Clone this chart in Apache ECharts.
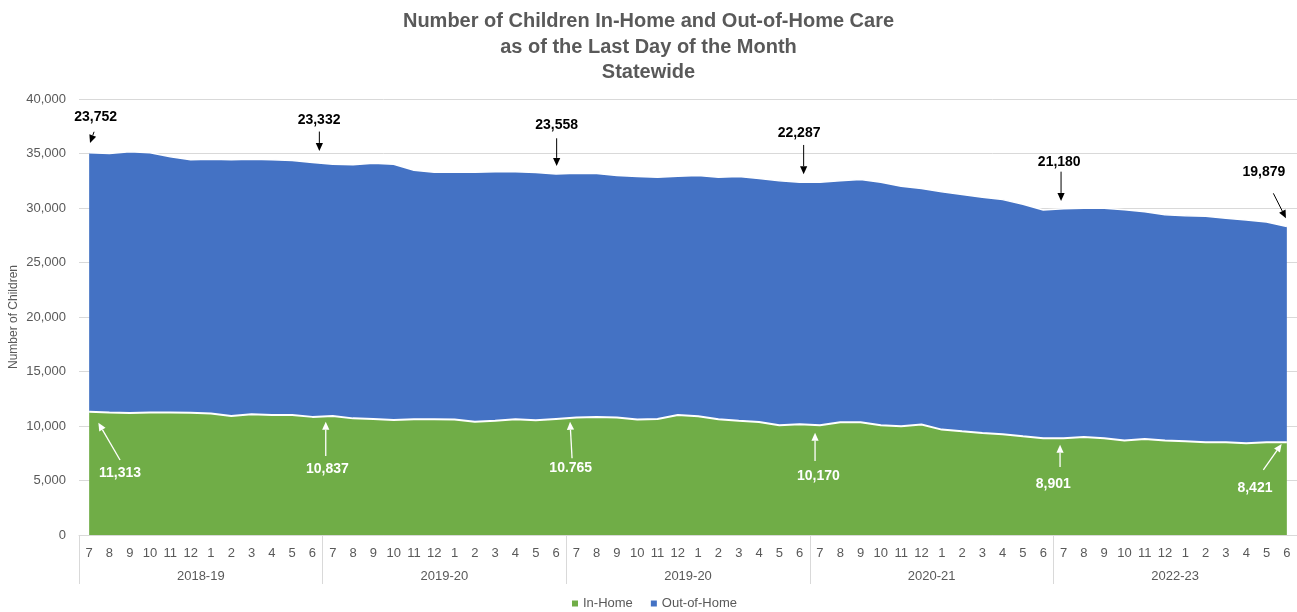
<!DOCTYPE html>
<html><head><meta charset="utf-8">
<script src="https://cdn.jsdelivr.net/npm/echarts@6/dist/echarts.min.js"></script>
<style>html,body{margin:0;padding:0;background:#fff}#c{width:1297px;height:612px}</style>
</head><body><div id="c"></div>
<script>
// ---------- DATA ----------
const titleLines = ['Number of Children In-Home and Out-of-Home Care', 'as of the Last Day of the Month', 'Statewide'];
const yTitle = 'Number of Children';
const months = ['7','8','9','10','11','12','1','2','3','4','5','6'];
const fiscalYears = ['2018-19','2019-20','2019-20','2020-21','2022-23'];
const seriesNames = ['In-Home','Out-of-Home'];
const inHome = [
  11313,11230,11200,11230,11230,11220,11140,10920,11080,11010,
  11010,10837,10920,10700,10650,10550,10620,10620,10600,10380,
  10490,10620,10520,10650,10770,10830,10770,10600,10650,11010,
  10890,10620,10490,10370,10060,10170,10060,10340,10340,10060,
  9970,10130,9670,9510,9360,9240,9050,8880,8870,8990,
  8870,8680,8800,8680,8590,8500,8500,8410,8500,8500
];
const outOfHome = [
  23752,23770,23950,23830,23470,23200,23340,23500,23400,23410,
  23350,23332,23100,23260,23460,23470,22850,22660,22710,22900,
  22830,22700,22730,22480,22420,22330,22210,22280,22170,21900,
  22090,22200,22390,22330,22430,22200,22300,22150,22270,22300,
  22020,21650,21830,21720,21620,21530,21290,20940,21070,20980,
  21100,21170,20865,20710,20710,20740,20550,20490,20220,19800
];
const yTicks = {min: 0, max: 40000, interval: 5000};
const noteIdx = [0, 11, 23, 35, 47, 59];
const outNotes = ['23,752','23,332','23,558','22,287','21,180','19,879'];
const inNotes = ['11,313','10,837','10.765','10,170','8,901','8,421'];
const sourceNote = 'Data Source Child Welfare Dashboard';

// ---------- LAYOUT / STYLE ----------
const FONT = '"Liberation Sans", Arial, sans-serif';
const GRAY = '#595959';
const GRID = '#d9d9d9';
const GREEN = '#70AD47';
const BLUE = '#4472C4';
// pixel offsets of annotation parts relative to the data anchor
const outLayout = [
  {label:[6.5,-36], tail:[4.9,-21], head:[0.9,-9.8]},
  {label:[6.6,-42], tail:[6.9,-31], head:[6.9,-11.6]},
  {label:[0.6,-49], tail:[0.6,-35.6], head:[0.6,-8]},
  {label:[-0.6,-49.5], tail:[4,-37.2], head:[4,-8]},
  {label:[16,-48.3], tail:[17.8,-38.3], head:[17.8,-9]},
  {label:[-22.9,-54.8], tail:[-13.5,-33.2], head:[-0.9,-8.2]}
];
const inLayout = [
  {label:[30.9,61.6], tail:[30.9,48.3], head:[9.2,11]},
  {label:[14.9,52.4], tail:[13.3,39.1], head:[13.3,4.8]},
  {label:[14.7,49.4], tail:[16,39.4], head:[14,2.8]},
  {label:[18.7,51.9], tail:[15.4,36.9], head:[15.4,8.6]},
  {label:[10,45.5], tail:[16.8,28.8], head:[16.8,6.5]},
  {label:[-31.9,45.3], tail:[-23.5,27.6], head:[-5.2,1.6]}
];

const categories = [];
fiscalYears.forEach(() => months.forEach(m => categories.push(m)));

const chart = echarts.init(document.getElementById('c'), null, {renderer: 'canvas'});
const option = {
  animation: false,
  backgroundColor: '#fff',
  textStyle: {fontFamily: FONT},
  title: {
    text: titleLines.join('\n'), left: 'center', top: 4,
    textStyle: {fontSize: 20, fontWeight: 'bold', color: GRAY, lineHeight: 25.5, fontFamily: FONT}
  },
  legend: {
    data: seriesNames, top: 592, left: 567, icon: 'rect',
    itemWidth: 6, itemHeight: 6, itemGap: 18,
    itemStyle: {borderWidth: 0},
    textStyle: {fontSize: 13, color: GRAY, fontFamily: FONT}
  },
  grid: {left: 79, right: 0, top: 99, bottom: 77, containLabel: false, outerBoundsMode: 'none'},
  xAxis: [
    {
      type: 'category', data: categories, boundaryGap: true, position: 'bottom',
      axisLine: {lineStyle: {color: GRID, width: 1}},
      axisTick: {show: false},
      axisLabel: {interval: 0, fontSize: 13, color: GRAY, margin: 12, fontFamily: FONT},
      splitLine: {show: false}
    },
    {
      type: 'category', data: fiscalYears, boundaryGap: true, position: 'bottom',
      axisLine: {show: false},
      axisTick: {show: true, interval: 0, length: 49, lineStyle: {color: GRID}},
      axisLabel: {interval: 0, fontSize: 13, color: GRAY, margin: 35, fontFamily: FONT},
      splitLine: {show: false}
    }
  ],
  yAxis: {
    type: 'value', min: yTicks.min, max: yTicks.max, interval: yTicks.interval,
    name: yTitle, nameLocation: 'middle', nameGap: 59, nameMoveOverlap: false,
    nameTextStyle: {fontSize: 12, color: GRAY, fontFamily: FONT},
    axisLine: {show: false}, axisTick: {show: false},
    splitLine: {lineStyle: {color: GRID}},
    axisLabel: {fontSize: 13, color: GRAY, margin: 13, fontFamily: FONT,
      formatter: v => v.toLocaleString('en-US')}
  },
  series: [
    {name: seriesNames[0], type: 'line', stack: 'total', data: inHome, symbol: 'none',
     areaStyle: {color: GREEN, opacity: 1}, lineStyle: {color: '#fff', width: 2},
     itemStyle: {color: GREEN}, z: 3},
    {name: seriesNames[1], type: 'line', stack: 'total', data: outOfHome, symbol: 'none',
     areaStyle: {color: BLUE, opacity: 1}, lineStyle: {color: '#fff', width: 1.5},
     itemStyle: {color: BLUE}, z: 2}
  ]
};
chart.setOption(option);

// ---------- ANNOTATIONS ----------
function arrow(tail, head, color, width) {
  const dx = head[0] - tail[0], dy = head[1] - tail[1];
  const L = Math.sqrt(dx*dx + dy*dy) || 1;
  const ux = dx / L, uy = dy / L;
  const hl = 8, hw = 3.6;
  const bx = head[0] - ux*hl, by = head[1] - uy*hl;
  const nx = -uy, ny = ux;
  return [
    {type: 'line', silent: true, z: 100, shape: {x1: tail[0], y1: tail[1], x2: bx, y2: by},
     style: {stroke: color, lineWidth: width}},
    {type: 'polygon', silent: true, z: 100,
     shape: {points: [[head[0], head[1]], [bx + nx*hw, by + ny*hw], [bx - nx*hw, by - ny*hw]]},
     style: {fill: color}}
  ];
}
const graphics = [];
noteIdx.forEach((i, k) => {
  const topPt = chart.convertToPixel({xAxisIndex: 0, yAxisIndex: 0}, [i, inHome[i] + outOfHome[i]]);
  const lo = outLayout[k];
  const add = (p, d) => [p[0] + d[0], p[1] + d[1]];
  graphics.push(...arrow(add(topPt, lo.tail), add(topPt, lo.head), '#000', 1));
  const lp = add(topPt, lo.label);
  graphics.push({type: 'text', silent: true, z: 100,
    style: {text: outNotes[k], x: lp[0], y: lp[1], align: 'center', verticalAlign: 'middle',
      font: 'bold 14px ' + FONT, fill: '#000'}});

  const inPt = chart.convertToPixel({xAxisIndex: 0, yAxisIndex: 0}, [i, inHome[i]]);
  const li = inLayout[k];
  graphics.push(...arrow(add(inPt, li.tail), add(inPt, li.head), '#fff', 1.3));
  const lq = add(inPt, li.label);
  graphics.push({type: 'text', silent: true, z: 100,
    style: {text: inNotes[k], x: lq[0], y: lq[1], align: 'center', verticalAlign: 'middle',
      font: 'bold 14px ' + FONT, fill: '#fff'}});
});
graphics.push({
  type: 'group', left: 97, top: 508, z: 100, silent: true,
  children: [
    {type: 'rect', shape: {x: 0, y: 0, width: 190, height: 21},
     style: {fill: '#fff', stroke: '#bfbfbf', lineWidth: 1}},
    {type: 'text', style: {text: sourceNote, x: 95, y: 11, align: 'center', verticalAlign: 'middle',
      font: '10.5px ' + FONT, fill: '#262626'}}
  ]
});
chart.setOption({graphic: graphics});
</script>
</body></html>
